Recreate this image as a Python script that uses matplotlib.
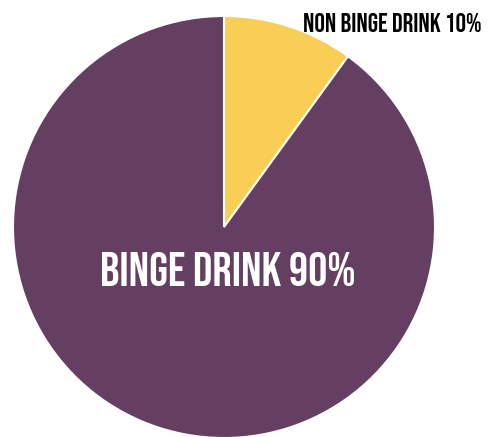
import matplotlib.pyplot as plt

labels = ['NON BINGE DRINK', 'BINGE DRINK']
shares = [10, 90]
colors = ['#F9CE55', '#643F61']

plt.rcParams['font.family'] = ['Bebas Neue', 'DejaVu Sans']

fig = plt.figure(figsize=(4.89, 4.37), dpi=100)
W, H = 489, 437
# pie centre and radius in pixels
cx, cy, r = 224, 227, 211
ax = fig.add_axes([(cx - r) / W, (H - cy - r) / H, 2 * r / W, 2 * r / H])
ax.pie(shares, colors=colors, startangle=90, counterclock=False, radius=1,
       wedgeprops=dict(edgecolor='white', linewidth=1.5))
ax.set_xlim(-1, 1)
ax.set_ylim(-1, 1)
ax.set_aspect('equal')
ax.axis('off')

fig.text(482 / W, 1 - 32 / H, f'{labels[0]} {shares[0]}%', ha='right',
         va='baseline', fontsize=19, color='black')
fig.text(228 / W, 1 - 286 / H, f'{labels[1]} {shares[1]}%', ha='center',
         va='baseline', fontsize=34.5, color='white')

fig.savefig('out.png', dpi=100)
